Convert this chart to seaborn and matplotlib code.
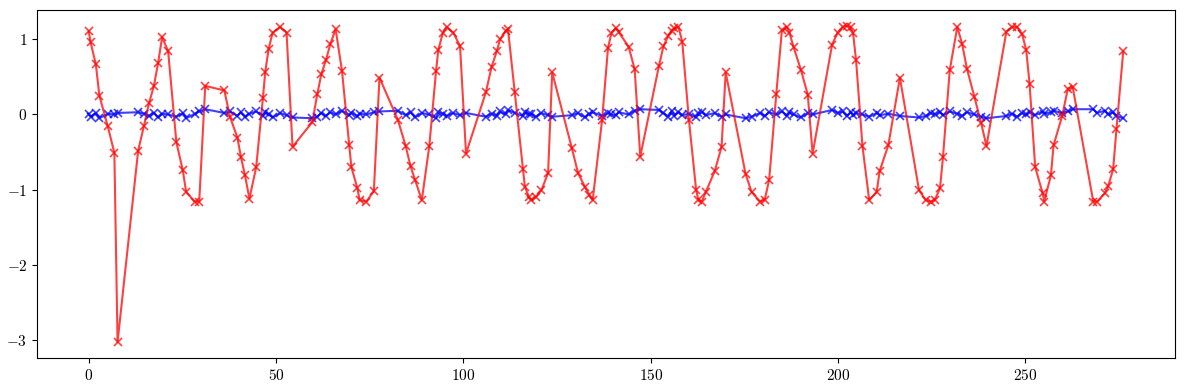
import numpy as np
import pandas as pd
import seaborn as sns
import matplotlib.pyplot as plt
from matplotlib.ticker import FuncFormatter

plt.rcParams['mathtext.fontset'] = 'cm'

# sample positions (shared by both series)
x_vals = [0, 0.5, 1.9, 2.85, 5.1, 6.85, 7.7,
          13.2, 14.75, 16.1, 17.4, 18.5, 19.6, 21.2, 23.4, 25.1, 26.0, 28.3, 29.5, 31.1,
          36.2, 37.7, 39.7, 40.6, 41.7, 42.9, 44.7, 46.5, 47.1, 48.0, 49.1, 51.1, 52.8, 54.4,
          59.7, 61.0, 62.1, 63.3, 64.5, 65.9, 67.6, 69.5, 70.1, 71.7, 72.3, 74.1, 76.1, 77.6,
          82.5, 84.6, 85.9, 87.1, 88.9, 90.9, 92.7, 93.3, 94.5, 95.5, 97.3, 99.1, 100.7,
          106.0, 107.5, 108.9, 109.8, 111.3, 111.9, 113.7, 115.9, 116.4, 117.5, 118.1, 119.3, 120.8, 122.6, 123.7,
          128.9, 130.6, 132.4, 133.6, 134.5, 137.0, 138.6, 139.5, 140.7, 141.4, 144.1, 145.7, 147.2,
          152.2, 153.4, 154.7, 155.6, 156.3, 157.4, 158.4, 160.2, 162.1, 162.7, 163.6, 164.7, 167.1, 168.9, 170.0,
          175.3, 176.9, 179.2, 180.4, 181.6, 183.5, 185.0, 186.3, 187.0, 188.1, 190.1, 191.9, 193.2,
          198.4, 199.9, 201.2, 202.3, 203.4, 204.0, 204.8, 206.5, 208.3, 210.3, 211.1, 213.4, 216.5,
          221.6, 223.4, 224.7, 225.8, 227.2, 228.0, 229.8, 231.8, 233.1, 234.4, 236.4, 238.2, 239.6,
          244.9, 246.4, 247.7, 249.1, 250.2, 251.1, 252.6, 254.6, 255.0, 256.8, 257.5, 259.8, 261.3, 262.6,
          268.1, 269.1, 271.2, 272.1, 273.4, 274.3, 276.1]

red_vals = [1.11, 0.96, 0.67, 0.25, -0.16, -0.51, -3.03,
            -0.48, -0.15, 0.15, 0.38, 0.68, 1.03, 0.84, -0.37, -0.74, -1.03, -1.16, -1.16, 0.38,
            0.32, -0.03, -0.31, -0.56, -0.81, -1.12, -0.70, 0.22, 0.56, 0.87, 1.09, 1.165, 1.09, -0.43,
            -0.10, 0.27, 0.54, 0.72, 0.94, 1.135, 0.58, -0.40, -0.70, -0.98, -1.14, -1.16, -1.02, 0.49,
            -0.07, -0.42, -0.69, -0.87, -1.14, -0.42, 0.58, 0.86, 1.08, 1.165, 1.09, 0.91, -0.52,
            0.295, 0.63, 0.84, 1.0, 1.11, 1.135, 0.295, -0.73, -0.96, -1.10, -1.14, -1.10, -1.01, -0.78, 0.56,
            -0.44, -0.78, -0.96, -1.07, -1.14, -0.08, 0.89, 1.08, 1.15, 1.10, 0.90, 0.605, -0.56,
            0.65, 0.91, 1.05, 1.11, 1.15, 1.165, 0.97, -0.08, -1.0, -1.14, -1.16, -1.03, -0.75, -0.43, 0.56,
            -0.79, -1.03, -1.16, -1.14, -0.87, 0.27, 1.12, 1.165, 1.09, 0.90, 0.59, 0.265, -0.52,
            0.93, 1.09, 1.165, 1.18, 1.16, 1.08, 0.72, -0.42, -1.14, -1.03, -0.75, -0.41, 0.49,
            -1.01, -1.14, -1.16, -1.14, -0.98, -0.56, 0.59, 1.165, 0.94, 0.605, 0.23, -0.12, -0.42,
            1.10, 1.165, 1.165, 1.07, 0.86, 0.41, -0.70, -1.05, -1.16, -0.81, -0.41, -0.02, 0.34, 0.37,
            -1.16, -1.16, -1.05, -0.95, -0.73, -0.19, 0.84]

blue_vals = [0.01, -0.03, 0.02, -0.05, 0.01, 0.0, 0.02,
             0.03, 0.01, -0.02, 0.02, -0.04, 0.01, 0.0, -0.03, 0.02, -0.05, 0.01, 0.04, 0.07,
             0.02, 0.04, -0.02, 0.03, -0.03, 0.01, 0.04, -0.02, 0.03, 0.0, -0.04, 0.02, -0.01, -0.04,
             -0.05, -0.03, 0.02, -0.02, 0.03, 0.0, 0.05, -0.01, 0.02, -0.02, 0.01, 0.0, 0.03, 0.04,
             0.05, -0.01, 0.03, -0.04, 0.02, 0.0, -0.05, 0.03, 0.01, -0.02, 0.02, -0.01, 0.02,
             -0.03, 0.01, -0.02, 0.04, 0.0, 0.06, 0.02, -0.02, 0.03, 0.0, 0.01, -0.03, 0.02, -0.01, -0.03,
             -0.01, 0.02, -0.04, 0.01, 0.03, -0.02, 0.02, 0.0, -0.01, 0.03, 0.0, 0.05, 0.07,
             0.06, 0.02, -0.03, 0.05, -0.02, 0.03, -0.01, 0.01, -0.04, 0.02, 0.03, -0.01, 0.02, -0.03, 0.0,
             -0.05, -0.03, 0.02, -0.02, 0.03, 0.0, 0.04, -0.02, 0.03, 0.0, -0.04, 0.02, 0.0,
             0.06, 0.02, 0.04, -0.02, 0.03, -0.01, 0.02, 0.0, -0.03, 0.02, -0.01, 0.01, -0.02,
             -0.04, -0.02, 0.02, 0.0, 0.03, -0.01, 0.04, 0.01, -0.02, 0.03, 0.0, -0.03, -0.05,
             -0.02, 0.01, -0.03, 0.02, 0.0, 0.03, -0.01, 0.04, 0.01, 0.03, 0.05, 0.02, 0.04, 0.07,
             0.07, 0.02, 0.05, 0.0, 0.03, -0.02, -0.05]

df = pd.DataFrame({'x': x_vals, 'red': red_vals, 'blue': blue_vals})

fig, ax = plt.subplots(figsize=(11.89, 3.9), dpi=100)

sns.lineplot(data=df, x='x', y='blue', sort=False, estimator=None, color='blue',
             alpha=0.75, marker='x', markersize=6, markeredgecolor='blue',
             markeredgewidth=1.2, linewidth=1.5, ax=ax)
sns.lineplot(data=df, x='x', y='red', sort=False, estimator=None, color='red',
             alpha=0.75, marker='x', markersize=6, markeredgecolor='red',
             markeredgewidth=1.2, linewidth=1.5, ax=ax)

ax.set_xlabel('')
ax.set_ylabel('')
ax.set_yticks([-3, -2, -1, 0, 1])
ax.set_xticks([0, 50, 100, 150, 200, 250])
fmt = FuncFormatter(lambda v, p: '$%d$' % round(v))
ax.xaxis.set_major_formatter(fmt)
ax.yaxis.set_major_formatter(fmt)
ax.tick_params(labelsize=11)

fig.subplots_adjust(left=0.0311, right=0.9882, top=0.9744, bottom=0.0821)
plt.savefig('out.png', dpi=100)
